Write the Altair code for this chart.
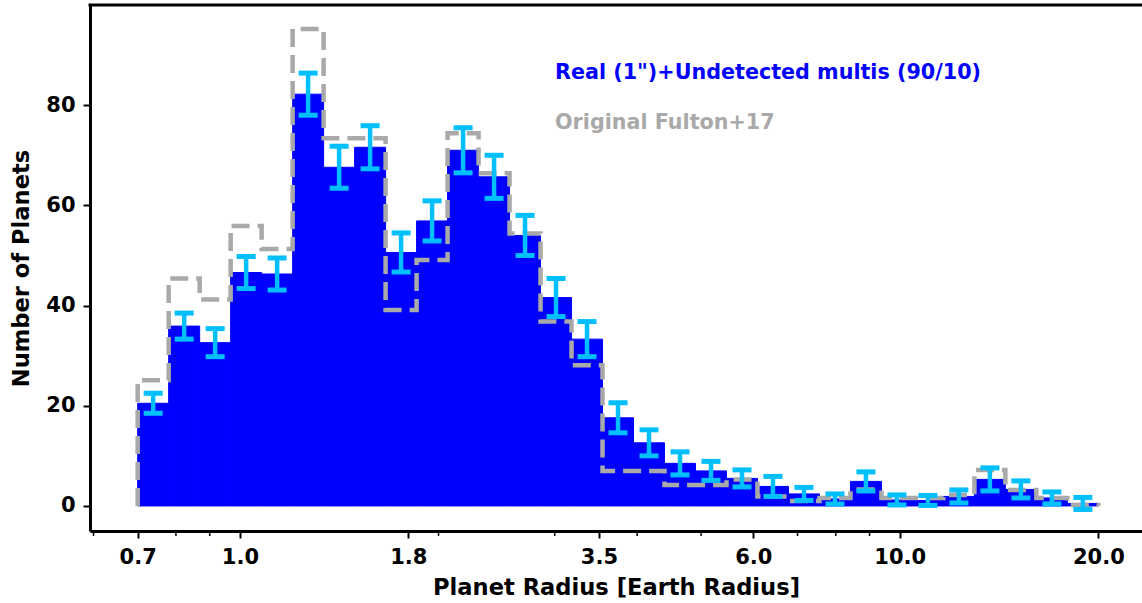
import altair as alt
import numpy as np
import pandas as pd

# Log-spaced radius bins, 0.7 to 20 Earth radii
edges = np.geomspace(0.7, 20.0, 32)

# Corrected sample: counts per bin and their uncertainties
real_counts = [20.5, 35.9, 32.6, 46.6, 46.3, 82.2, 67.6, 71.6, 50.6, 56.9,
               71.0, 65.7, 54.0, 41.6, 33.3, 17.6, 12.6, 8.5, 7.0, 5.5,
               3.9, 2.4, 1.4, 4.9, 1.2, 1.1, 1.9, 5.3, 3.3, 1.6, 0.5]
real_err = [2.0, 2.6, 2.8, 3.2, 3.2, 4.2, 4.2, 4.3, 3.9, 4.0,
            4.5, 4.3, 4.0, 3.8, 3.5, 3.0, 2.6, 2.3, 1.9, 1.7,
            2.0, 1.3, 1.0, 1.9, 1.0, 1.0, 1.3, 2.3, 1.7, 1.2, 1.2]

# Original Fulton+17 histogram
fulton_counts = [25.1, 45.4, 41.2, 55.9, 51.3, 95.2, 73.4, 73.4, 39.1, 49.1,
                 74.4, 66.4, 54.4, 36.8, 28.1, 7.0, 7.0, 4.2, 4.2, 5.3,
                 1.9, 1.0, 1.6, 3.3, 1.6, 1.6, 2.2, 7.2, 3.2, 1.6, 0.2]

major_ticks = [0.7, 1.0, 1.8, 3.5, 6.0, 10.0, 20.0]
minor_ticks = [0.6, 0.8, 0.9, 2, 3, 4, 5, 7, 8, 9]
y_ticks = [0, 20, 40, 60, 80]
label_real = 'Real (1")+Undetected multis (90/10)'
label_fulton = "Original Fulton+17"

BLUE = "#0000ff"
CYAN = "#00bfff"
GRAY = "#a9a9a9"
W, H = 1052, 526

xscale = alt.Scale(type="log", domain=[0.5927, 23.29], nice=False)
yscale = alt.Scale(domain=[-5, 100], nice=False, zero=False)

bins = pd.DataFrame({
    "lo": edges[:-1],
    "hi": edges[1:],
    "n": real_counts,
    "err": real_err,
})
bins["mid"] = np.sqrt(bins["lo"] * bins["hi"])
bins["top"] = bins["n"] + bins["err"]
bins["bot"] = bins["n"] - bins["err"]
bins["zero"] = 0.0

# Outline of the step histogram
sx, sy = [edges[0]], [0.0]
for i, c in enumerate(fulton_counts):
    sx += [edges[i], edges[i + 1]]
    sy += [c, c]
sx.append(edges[-1])
sy.append(0.0)
step = pd.DataFrame({"r": sx, "n": sy, "k": range(len(sx))})

x_axis = alt.Axis(
    values=major_ticks, format=".1f", title="Planet Radius [Earth Radius]",
    tickSize=7, grid=False, labelFlush=False, labelOverlap=False,
    labelBaseline="alphabetic", labelPadding=25,
    titleY=63, titleBaseline="alphabetic",
)
y_axis = alt.Axis(
    values=y_ticks, title="Number of Planets", tickSize=7, grid=False,
    labelPadding=8, titleX=-62, titleY=H / 2, titleAngle=270,
    titleBaseline="alphabetic", titleAlign="center",
)

hist = alt.Chart(bins).mark_rect(
    color=BLUE, stroke=BLUE, strokeWidth=1
).encode(
    x=alt.X("lo:Q", scale=xscale, axis=x_axis),
    x2="hi:Q",
    y=alt.Y("zero:Q", scale=yscale, axis=y_axis),
    y2="n:Q",
)

outline = alt.Chart(step).mark_line(
    color=GRAY, strokeWidth=4.5, strokeDash=[18, 8]
).encode(x="r:Q", y="n:Q", order="k:Q")

stems = alt.Chart(bins).mark_rule(color=CYAN, strokeWidth=4.5).encode(
    x="mid:Q", y="bot:Q", y2="top:Q"
)
caps_hi = alt.Chart(bins).mark_tick(
    color=CYAN, orient="horizontal", size=19, thickness=5, opacity=1
).encode(x="mid:Q", y="top:Q")
caps_lo = alt.Chart(bins).mark_tick(
    color=CYAN, orient="horizontal", size=19, thickness=5, opacity=1
).encode(x="mid:Q", y="bot:Q")

minor = alt.Chart(pd.DataFrame({"r": minor_ticks})).mark_rule(
    color="black", strokeWidth=1.5
).encode(x="r:Q", y=alt.value(H), y2=alt.value(H + 5))

frame_top = alt.Chart(pd.DataFrame({"a": [0]})).mark_rule(
    color="black", strokeWidth=3
).encode(x=alt.value(-1.5), x2=alt.value(W), y=alt.value(0))

text_real = alt.Chart(pd.DataFrame({"t": [label_real]})).mark_text(
    align="left", baseline="alphabetic", font="DejaVu Sans",
    fontWeight="bold", fontSize=20.7, color=BLUE
).encode(text="t:N", x=alt.value(465), y=alt.value(74))
text_fulton = alt.Chart(pd.DataFrame({"t": [label_fulton]})).mark_text(
    align="left", baseline="alphabetic", font="DejaVu Sans",
    fontWeight="bold", fontSize=20.7, color=GRAY
).encode(text="t:N", x=alt.value(465), y=alt.value(124))

chart = alt.layer(
    hist, outline, stems, caps_hi, caps_lo, minor, frame_top, text_real, text_fulton
).properties(
    width=W, height=H,
    autosize=alt.AutoSizeParams(type="none"),
    padding={"left": 90, "top": 5, "right": 0, "bottom": 72},
).configure_view(stroke=None).configure_axis(
    domainColor="black", domainWidth=3, tickColor="black", tickWidth=2,
    labelFont="DejaVu Sans", labelFontWeight="bold", labelFontSize=21,
    labelColor="black", titleFont="DejaVu Sans", titleFontWeight="bold",
    titleFontSize=22.6, titleColor="black",
)

chart.save("out.html", embed_options={"renderer": "svg", "actions": False})
